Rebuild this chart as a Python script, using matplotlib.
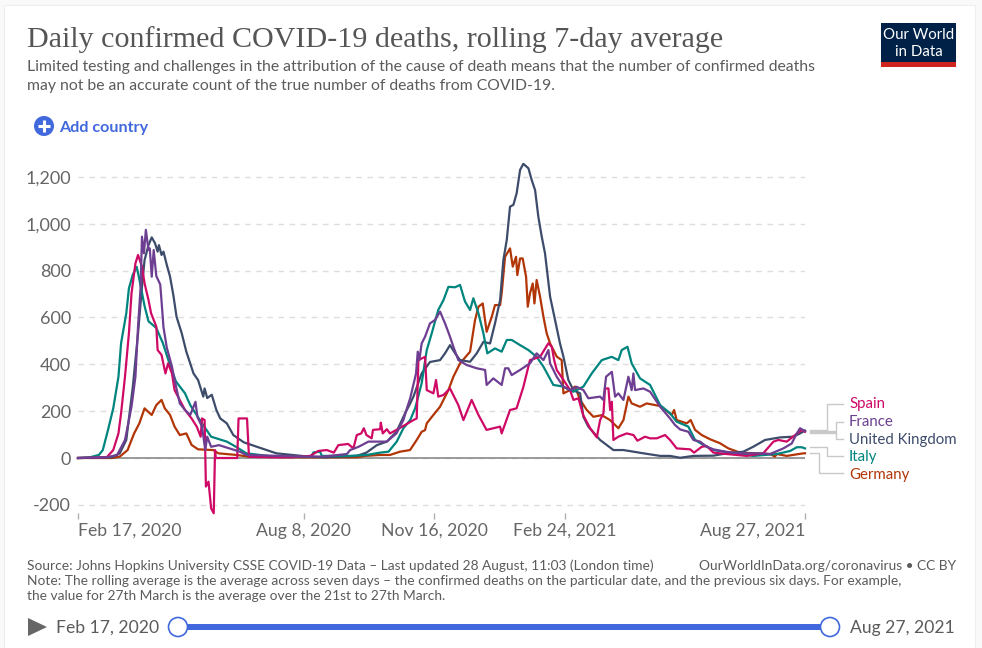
import matplotlib
matplotlib.use('Agg')
import matplotlib.pyplot as plt
from matplotlib.patches import Circle, Rectangle, Polygon

# days since Feb 17, 2020
germany_days = [0, 26, 32, 38, 43, 47, 51, 55, 56.5, 60, 64, 66.5, 70.5, 74, 78, 83, 87, 92, 103.5, 107.5, 121.5, 130.5, 173, 195.7, 213.6, 220,
                231.4, 239, 246.7, 254.4, 259.5, 263.3, 265.9, 267.2, 272.3, 277.4, 283.8, 287.6, 292.7, 300.4, 304.2, 306.8, 310.1, 313.1, 317, 319.5, 323.4, 324.6, 327.2, 331, 333.1, 335.6, 336.6, 338.7, 340.7, 343.3, 344.6, 346.3, 348.4, 349.7, 351.4, 354, 356.6, 359.1, 361.7, 366.8, 370.6, 371.9, 377, 380.8, 384.7, 389.8, 394.9, 401.3, 407.6, 412.8, 414, 417.9, 421.7, 424.2, 430.6, 435.7, 446,
                455, 456.7, 458.7, 466.4, 469.4, 472.8, 477.9, 484.3, 491.9, 498.3, 507.2, 520, 530.2, 534, 535.3, 543, 555.8, 557]
germany_vals = [0, 0, 6, 34, 105, 148, 212, 191, 184, 226, 248, 212, 184, 134, 98, 105, 56, 37, 34, 20, 13, 6, 3, 3, 3, 9,
                13, 13, 27, 34, 77, 112, 119, 148, 184, 219, 290, 347, 404, 454, 589, 646, 660, 539, 603, 653, 653, 703, 859, 895, 817, 859, 781, 852, 852, 774, 646, 703, 745, 660, 760, 689, 603, 532, 489, 433, 418, 276, 290, 305, 248, 205, 176, 183, 162, 134, 127, 162, 262, 233, 219, 233, 222,
                184, 205, 162, 148, 162, 120, 98, 80, 63, 41, 23, 20, 17, 6, 17, 9, 20, 20]

uk_days = [0, 26, 32, 37, 42, 46, 49, 51, 54, 56.5, 59, 61, 62, 64, 65.5, 68, 70.5, 73, 75.5, 79.5, 83, 88.5, 92, 96, 97, 99, 102.5, 106, 109, 114, 119, 127, 137, 152, 173, 188, 213.6, 221, 229, 236.6, 244, 250.6, 254.5, 257,
           263.3, 269.7, 277.4, 281.2, 285, 288.9, 292.7, 300.4, 305.5, 310.6, 315.7, 319.5, 323.4, 325.9, 328.5, 331, 333.6, 336.1, 338.7, 341.2, 345.1, 347.6, 350.2, 352.7, 355.3, 357.8, 361.7, 365.5, 369.3, 371.9, 375.7, 379.5, 384.7, 387.2, 391, 400, 410.2, 417.9, 433.2, 446,
           453.6, 461.3, 471.5, 486.8, 497, 509.8, 517.3, 526.4, 537.9, 548, 553.2, 557]
uk_vals = [0, 3, 20, 77, 304, 532, 731, 845, 909, 942, 917, 881, 909, 867, 881, 825, 775, 697, 603, 532, 454, 361, 333, 262, 297, 256, 270, 205, 169, 148, 98, 67, 48, 20, 8, 3, 9, 23, 55, 70, 112, 191, 233, 262,
           361, 410, 418, 447, 482, 447, 418, 411, 447, 496, 489, 575, 674, 845, 931, 1073, 1081, 1131, 1230, 1256, 1237, 1187, 1144, 1030, 945, 874, 689, 589, 489, 433, 333, 290, 276, 176, 134, 77, 34, 34, 20, 9,
           9, 1, 9, 10, 20, 27, 48, 77, 88, 91, 105, 117]

italy_days = [0, 9, 16, 19, 23, 27, 31, 33, 37, 39, 42, 45, 47, 51, 54, 60, 65, 70, 75, 82, 86, 95, 102, 114, 121, 129, 147, 173, 179, 180.4, 185.5, 186.8, 208.5, 221.2, 231.5, 237.9, 244.2, 249.3, 254.5, 258.3,
              263.3, 267.2, 271, 276, 280, 283.8, 288.9, 292.7, 296.5, 300.4, 302.9, 306.8, 310.6, 313.6, 319.5, 324.6, 328.5, 332.3, 338.7, 345.1, 351.4, 356.6, 364.2, 371.9, 379.5, 387.2, 393.6, 401.3, 408.9, 414, 416.6, 421, 424.2, 430.6, 438.3, 446,
              453.6, 458.7, 467.6, 472.8, 479.1, 486.8, 499.6, 517.5, 535.3, 545.6, 550.7, 554.5, 557]
italy_vals = [0, 3, 13, 34, 120, 212, 347, 490, 618, 724, 783, 816, 763, 649, 584, 555, 491, 405, 327, 276, 226, 148, 91, 70, 48, 20, 8, 6, 9, 24, 27, 9, 9, 13, 23, 27, 70, 127, 162, 212,
              319, 461, 532, 632, 674, 731, 729, 739, 668, 632, 682, 618, 532, 447, 468, 454, 504, 504, 482, 461, 432, 390, 312, 305, 283, 305, 361, 418, 432, 418, 461, 475, 404, 340, 312, 226,
              191, 155, 134, 77, 56, 34, 23, 9, 17, 30, 46, 46, 41]

spain_days = [0, 22, 27, 31, 33, 36, 39, 41, 44, 46, 49, 51, 54, 56, 60, 61, 64, 67, 69, 72, 74, 78, 82, 87, 91, 94, 95, 97, 98, 100, 102, 104, 105, 105.5, 122, 123, 129.5, 131, 150, 162.5,
              178, 184, 190.6, 196, 199.5, 207, 211, 213.6, 217, 219, 221, 225, 226, 231.5, 232, 233.5, 236.6, 239, 244, 250.6, 257, 259.5, 260.8, 265.9, 267.2, 272.3, 274.3, 276, 280, 285, 291.4, 295.3, 301.6, 306.8, 313, 323.4, 324.6, 331, 336, 341.2, 346.3, 354, 360.4,
              363, 364.8, 366.8, 372, 377, 379.6, 383.4, 387, 392.4, 397.5, 400, 402.6, 403.8, 406.4, 407.7, 409, 410.2, 414, 420.4, 425.6, 428.6, 434.5, 438.3, 443.4, 449.8, 453.6,
              458.7, 469, 472, 477.9, 481.7, 486.8, 497, 512.3, 525, 532.8, 536.6, 543, 549.4, 554.5, 557]
spain_vals = [0, 3, 34, 105, 191, 347, 532, 703, 831, 867, 817, 746, 675, 618, 561, 461, 440, 361, 404, 361, 290, 247, 205, 169, 134, 91, 169, 162, -122, -101, -215, -236, 34, 0, 0, 169, 169, 5, 3, 3,
              9, 30, 34, 23, 55, 60, 41, 98, 105, 127, 98, 84, 120, 123, 151, 105, 123, 105, 120, 141, 162, 169, 418, 432, 290, 276, 333, 262, 269, 297, 226, 162, 248, 184, 120, 134, 105, 205, 212, 303, 418, 432, 490,
              475, 418, 376, 333, 290, 248, 255, 184, 127, 88, 162, 191, 297, 297, 205, 240, 77, 91, 105, 98, 74, 91, 84, 84, 98, 77,
              41, 37, 23, 48, 51, 23, 17, 9, 20, 70, 77, 70, 98, 120, 112]

france_days = [0, 22, 30, 36, 41, 44, 46, 48, 49, 50.5, 52, 54, 55, 56.5, 58, 60, 63, 64, 65.5, 68, 72, 74, 78, 82, 86, 90, 91.5, 95, 97.5, 99, 102, 108, 116, 124, 129, 173, 188, 206, 208.5, 215, 222.5, 229, 236.6, 244, 249.3, 252, 254.5,
               259, 260.3, 261.5, 263.3, 265.9, 269.7, 273.5, 277.4, 281.2, 285, 287.6, 291.4, 297.8, 305.5, 311.9, 313.1, 318.2, 324.6, 327.2, 329.7, 332.3, 338.7, 346.3, 351.4, 356.6, 360.4, 361.7, 366.8, 371.9, 377, 382.1, 387.2, 391, 400, 402.5, 404.6, 409, 411.5, 414, 417.9, 421.7, 424.2, 425.5, 426.8, 433.2, 438.3, 446,
               453.6, 457.4, 461.3, 467.6, 471.5, 476.6, 481.7, 486.8, 497, 509.8, 522.6, 530.2, 540.4, 546.8, 550.7, 553.2, 557]
france_vals = [0, 3, 13, 77, 219, 347, 561, 731, 945, 874, 974, 888, 895, 774, 888, 777, 741, 670, 558, 472, 390, 333, 233, 205, 184, 240, 175, 134, 34, 91, 48, 55, 41, 27, 13, 6, 6, 17, 34, 48, 70, 70, 70, 105, 162, 212, 255,
               361, 454, 418, 489, 518, 575, 589, 625, 575, 518, 475, 418, 397, 383, 376, 312, 340, 312, 383, 383, 354, 376, 404, 447, 418, 461, 404, 347, 304, 290, 304, 290, 255, 262, 248, 347, 368, 262, 276, 248, 347, 290, 361, 290, 297, 283, 219,
               169, 141, 122, 112, 77, 70, 48, 37, 26, 20, 20, 17, 41, 62, 105, 127, 115]

y_ticks = [-200, 0, 200, 400, 600, 800, 1000, 1200]
x_ticks = [0, 173, 273, 373, 557]
x_labels = ['Feb 17, 2020', 'Aug 8, 2020', 'Nov 16, 2020', 'Feb 24, 2021', 'Aug 27, 2021']

W, H = 982, 648
FONT = 'Lato'
GREY = '#5b5b5b'
BLUE = '#4169dd'
SPAIN = '#cf0a66'
FRANCE = '#6d3e91'
UK = '#3d4c6b'
ITALY = '#00847e'
GERMANY = '#b13507'

plt.rcParams['font.family'] = [FONT, 'DejaVu Sans']
fig = plt.figure(figsize=(W / 100, H / 100), dpi=100, facecolor='#f9f9f9')

# overlay in pixel coordinates for the page furniture
bg = fig.add_axes([0, 0, 1, 1], zorder=0)
bg.set_xlim(0, W)
bg.set_ylim(H, 0)
bg.axis('off')
bg.add_patch(Rectangle((4, 5), 971, 650, fc='white', ec='#eeeeee', lw=0.8))

# logo
bg.add_patch(Rectangle((881, 23), 75, 44, fc='#002147', ec='none'))
bg.add_patch(Rectangle((881, 62), 75, 5, fc='#ce261e', ec='none'))
bg.text(918.5, 35, 'Our World', color='white', fontsize=10.8, ha='center', va='center')
bg.text(918.5, 52, 'in Data', color='white', fontsize=10.8, ha='center', va='center')

# header
bg.text(27, 40, 'Daily confirmed COVID-19 deaths, rolling 7-day average', family='Liberation Serif',
        fontsize=21.6, color='#555555', va='center')
bg.text(27, 67, 'Limited testing and challenges in the attribution of the cause of death means that the number of confirmed deaths',
        fontsize=11.3, color=GREY, va='center')
bg.text(27, 86, 'may not be an accurate count of the true number of deaths from COVID-19.',
        fontsize=11.3, color=GREY, va='center')

# add country button
bg.add_patch(Circle((44, 126), 10, fc=BLUE, ec='none'))
bg.plot([38, 50], [126, 126], color='white', lw=2.2, solid_capstyle='butt')
bg.plot([44, 44], [120, 132], color='white', lw=2.2, solid_capstyle='butt')
bg.text(59, 128, 'Add country', fontsize=11.6, color=BLUE, fontweight='bold', va='center')

# legend connectors
for xs, ys in [([810, 827, 827, 843], [430, 430, 404, 404]),
               ([810, 836, 836, 843], [431, 431, 422, 422]),
               ([810, 836], [432, 432]),
               ([810, 836, 836, 843], [433, 433, 439, 439]),
               ([810, 827, 827, 843], [447, 447, 456, 456]),
               ([810, 819, 819, 843], [453, 453, 473, 473])]:
    bg.plot(xs, ys, color='#c9c9c9', lw=1)
for name, colour, py in [('Spain', SPAIN, 404), ('France', FRANCE, 422), ('United Kingdom', UK, 440),
                         ('Italy', ITALY, 457), ('Germany', GERMANY, 475)]:
    bg.text(849, py, name, color=colour, fontsize=10.8, va='center')

# footer
bg.text(27, 566, 'Source: Johns Hopkins University CSSE COVID-19 Data – Last updated 28 August, 11:03 (London time)',
        fontsize=9.95, color=GREY, va='center')
bg.text(956, 566, 'OurWorldInData.org/coronavirus • CC BY', fontsize=9.95, color=GREY, va='center', ha='right')
bg.text(27, 581, 'Note: The rolling average is the average across seven days – the confirmed deaths on the particular date, and the previous six days. For example,',
        fontsize=9.95, color=GREY, va='center')
bg.text(27, 596, 'the value for 27th March is the average over the 21st to 27th March.',
        fontsize=9.95, color=GREY, va='center')

# timeline slider
bg.add_patch(Polygon([(28, 618), (47, 627), (28, 636)], fc='#666666', ec='none'))
bg.text(56, 627.5, 'Feb 17, 2020', fontsize=12.6, color=GREY, va='center')
bg.text(955, 627.5, 'Aug 27, 2021', fontsize=12.6, color=GREY, va='center', ha='right')
bg.add_patch(Rectangle((178, 624), 652, 6, fc=BLUE, ec='none'))
for cx in (178, 830):
    bg.add_patch(Circle((cx, 627), 9.5, fc='white', ec=BLUE, lw=1.2, zorder=3))

# the chart itself, zero sits at 458 px and 1,200 at 177 px
ax = fig.add_axes([78 / W, 1 - 513 / H, 727 / W, 353 / H], zorder=1)
ax.patch.set_alpha(0)
ax.set_xlim(0, 557)
ax.set_ylim(-234.8, 1272.4)
for s in ax.spines.values():
    s.set_visible(False)

ax.set_yticks(y_ticks)
ax.set_yticklabels([f'{v:,}' for v in y_ticks], fontsize=13, color='#666666')
ax.tick_params(axis='y', length=0, pad=5)
ax.set_xticks(x_ticks)
ax.set_xticklabels(x_labels, fontsize=12.7, color='#666666')
ax.tick_params(axis='x', length=4, width=1, color='#b0b0b0', pad=3)
ax.get_xticklabels()[0].set_ha('left')
ax.get_xticklabels()[-1].set_ha('right')
ax.grid(axis='y', color='#dddddd', linestyle=(0, (4, 4)), linewidth=1)
ax.set_axisbelow(True)
ax.axhline(0, color='#8a8a8a', lw=1.2, zorder=1)

for days, vals, colour in [(germany_days, germany_vals, GERMANY), (uk_days, uk_vals, UK), (italy_days, italy_vals, ITALY),
                           (spain_days, spain_vals, SPAIN), (france_days, france_vals, FRANCE)]:
    ax.plot(days, vals, color=colour, lw=1.6, solid_joinstyle='round', clip_on=False, zorder=2)

fig.savefig('out.png', dpi=100, facecolor=fig.get_facecolor())
